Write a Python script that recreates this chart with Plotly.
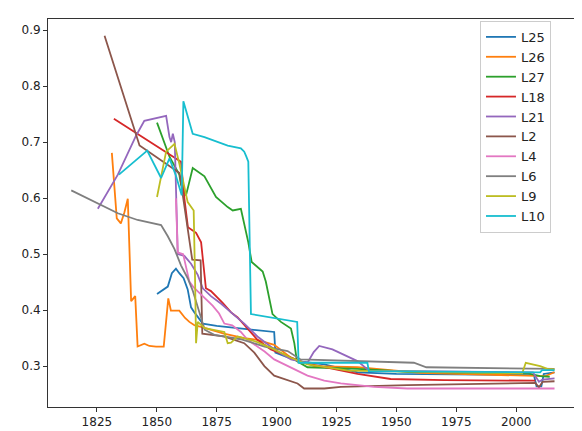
import plotly.graph_objects as go

# ---- data ----
names = ["L25", "L26", "L27", "L18", "L21", "L2", "L4", "L6", "L9", "L10"]
colors = ["#1f77b4", "#ff7f0e", "#2ca02c", "#d62728", "#9467bd",
          "#8c564b", "#e377c2", "#7f7f7f", "#bcbd22", "#17becf"]

L25_years = [1850.1, 1854.6, 1856.3, 1858.0, 1859.4, 1861.2, 1862.9, 1864.3, 1865.7, 1869.2, 1875,
             1883.8, 1890.7, 1899.0, 1899.5, 1908.8, 1919.9, 1933.8, 1950, 1980, 2005, 2007.4,
             2008.5, 2010.5, 2011.5, 2016]
L25_vals = [0.429, 0.442, 0.466, 0.474, 0.466, 0.457, 0.437, 0.405, 0.396, 0.376, 0.372,
            0.368, 0.364, 0.361, 0.324, 0.309, 0.303, 0.289, 0.286, 0.285, 0.285, 0.284,
            0.264, 0.264, 0.286, 0.289]

L26_years = [1831.25, 1833.3, 1835.0, 1836.5, 1837.9, 1839.3, 1841.0, 1842.0, 1844.8, 1846.9,
             1849.7, 1852.9, 1854.8, 1855.9, 1859.4, 1861.8, 1863.6, 1865.7, 1868.5, 1878.0,
             1886.5, 1892.0, 1899.0, 1906.0, 1915.7, 1933.8, 1960, 2000, 2012, 2016]
L26_vals = [0.681, 0.564, 0.555, 0.575, 0.599, 0.416, 0.425, 0.335, 0.340, 0.336,
            0.335, 0.335, 0.421, 0.399, 0.399, 0.386, 0.379, 0.373, 0.370, 0.358,
            0.350, 0.347, 0.338, 0.315, 0.300, 0.298, 0.288, 0.283, 0.282, 0.289]

L27_years = [1850.1, 1853.9, 1855.3, 1859.4, 1860.1, 1862.2, 1865.0, 1869.9, 1874.7, 1879.6,
             1881.7, 1885.1, 1886.5, 1888.2, 1889.6, 1892.8, 1894.2, 1895.5, 1898.3, 1901.8,
             1906.0, 1907.4, 1908.5, 1912.9, 1933.8, 1954.6, 2000, 2005, 2010, 2014]
L27_vals = [0.735, 0.691, 0.674, 0.642, 0.625, 0.605, 0.654, 0.639, 0.602, 0.584,
            0.578, 0.581, 0.555, 0.521, 0.486, 0.474, 0.469, 0.451, 0.393, 0.379,
            0.367, 0.341, 0.309, 0.298, 0.295, 0.290, 0.288, 0.287, 0.282, 0.281]

L18_years = [1832.1, 1860.1, 1861.5, 1863.0, 1866.4, 1868.5, 1870.5, 1872.6, 1877.5, 1881.0,
             1883.75, 1887.2, 1892.0, 1897.6, 1904.6, 1911.5, 1922.6, 1933.8, 1947.6, 1970, 2008]
L18_vals = [0.742, 0.665, 0.600, 0.548, 0.538, 0.521, 0.439, 0.434, 0.413, 0.396,
            0.387, 0.370, 0.347, 0.330, 0.318, 0.306, 0.296, 0.286, 0.277, 0.275, 0.274]

L21_years = [1825.4, 1833.75, 1841.4, 1844.8, 1853.9, 1855.3, 1856.0, 1856.7, 1857.5, 1858.0,
             1858.75, 1861.5, 1864.3, 1867.1, 1869.2, 1872.6, 1877, 1881, 1886.5, 1892.0,
             1899.0, 1906.0, 1912.9, 1915.5, 1917.8, 1923.3, 1928, 1933.75, 1938.6, 1960,
             2007, 2009.5, 2011, 2016]
L21_vals = [0.581, 0.642, 0.712, 0.738, 0.747, 0.709, 0.700, 0.715, 0.700, 0.600,
            0.500, 0.497, 0.483, 0.463, 0.439, 0.425, 0.411, 0.396, 0.376, 0.353,
            0.330, 0.312, 0.306, 0.325, 0.336, 0.330, 0.321, 0.309, 0.292, 0.291,
            0.289, 0.272, 0.276, 0.278]

L2_years = [1828.2, 1842.8, 1859.5, 1861, 1864.8, 1868.3, 1869.0, 1878.0, 1886.5, 1890.7,
            1894.9, 1899.0, 1903.2, 1908.75, 1911.5, 1919.9, 1926.8, 1940, 1954.6, 2008,
            2009.5, 2011, 2016]
L2_vals = [0.890, 0.694, 0.645, 0.600, 0.490, 0.489, 0.358, 0.353, 0.341, 0.324,
           0.300, 0.283, 0.277, 0.269, 0.260, 0.260, 0.263, 0.265, 0.266, 0.270,
           0.262, 0.272, 0.273]

L4_years = [1858.0, 1858.75, 1861, 1863.6, 1865.5, 1869.9, 1873.3, 1876, 1878.2, 1881.5,
            1885.1, 1887.9, 1892.0, 1895, 1899.0, 1903.2, 1908.75, 1912.9, 1919.9, 1926.8,
            1940.7, 1954.6, 2016]
L4_vals = [0.600, 0.503, 0.500, 0.451, 0.440, 0.422, 0.408, 0.394, 0.376, 0.373,
           0.361, 0.347, 0.335, 0.326, 0.312, 0.303, 0.292, 0.283, 0.274, 0.269,
           0.263, 0.260, 0.260]

L6_years = [1814.3, 1825.4, 1833.75, 1842.0, 1851.8, 1854.6, 1857.4, 1860.1, 1862.9, 1865,
            1867.1, 1868.5, 1870, 1874, 1885, 1895, 1904.6, 1910, 1957.3, 1962.5, 2016]
L6_vals = [0.614, 0.590, 0.573, 0.561, 0.552, 0.532, 0.509, 0.480, 0.457, 0.435,
           0.405, 0.382, 0.365, 0.356, 0.348, 0.335, 0.327, 0.312, 0.306, 0.298, 0.295]

L9_years = [1850.1, 1851.8, 1853.9, 1857.4, 1859.5, 1862.9, 1865.4, 1866.0, 1866.4, 1867.1,
            1870, 1878.2, 1879.6, 1881, 1883.75, 1892, 1899, 1906, 1912.9, 1930,
            2002.5, 2004, 2006, 2010, 2013, 2016]
L9_vals = [0.602, 0.636, 0.683, 0.697, 0.660, 0.593, 0.578, 0.450, 0.341, 0.379,
           0.368, 0.361, 0.341, 0.342, 0.353, 0.343, 0.330, 0.315, 0.303, 0.292,
           0.287, 0.306, 0.304, 0.300, 0.295, 0.294]

L10_years = [1834.2, 1846.0, 1851.8, 1855.3, 1858.0, 1860.4, 1861.1, 1865.0, 1869.9, 1874,
             1879.6, 1885.1, 1886.5, 1887.3, 1888.2, 1889.3, 1908.6, 1909.2, 1937.9, 1938.5,
             2010.0, 2010.8, 2016]
L10_vals = [0.642, 0.685, 0.636, 0.671, 0.640, 0.605, 0.773, 0.715, 0.709, 0.703,
            0.694, 0.689, 0.683, 0.675, 0.665, 0.393, 0.379, 0.306, 0.306, 0.291,
            0.289, 0.293, 0.293]

x_ticks = [1825, 1850, 1875, 1900, 1925, 1950, 1975, 2000, 2025]
y_ticks = [0.3, 0.4, 0.5, 0.6, 0.7, 0.8, 0.9]

series = [
    (L25_years, L25_vals), (L26_years, L26_vals), (L27_years, L27_vals),
    (L18_years, L18_vals), (L21_years, L21_vals), (L2_years, L2_vals),
    (L4_years, L4_vals), (L6_years, L6_vals), (L9_years, L9_vals),
    (L10_years, L10_vals),
]

fig = go.Figure()
for name, color, (xs, ys) in zip(names, colors, series):
    fig.add_trace(go.Scatter(x=xs, y=ys, mode="lines", name=name,
                             line=dict(color=color, width=1.8)))

axis_common = dict(showline=True, mirror=True, linecolor="#333", linewidth=1,
                   ticks="outside", ticklen=4, tickcolor="#333", showgrid=False,
                   zeroline=False, tickfont=dict(size=12, color="#222"))

fig.update_layout(
    width=582, height=431,
    margin=dict(l=40, r=12, t=10, b=22),
    paper_bgcolor="white", plot_bgcolor="white",
    font=dict(family="DejaVu Sans", size=12, color="#222"),
    xaxis=dict(range=[1804.6, 2025.8], tickvals=x_ticks,
               ticktext=[str(t) for t in x_ticks], **axis_common),
    yaxis=dict(range=[0.227, 0.920], tickvals=y_ticks,
               ticktext=[f"{t:.1f}" for t in y_ticks], **axis_common),
    legend=dict(x=0.949, xanchor="right", y=0.995, yanchor="top",
                bgcolor="rgba(255,255,255,0.85)", bordercolor="#cccccc",
                borderwidth=1, font=dict(size=13, color="#222")),
    showlegend=True,
)

fig.write_html("out.html")
